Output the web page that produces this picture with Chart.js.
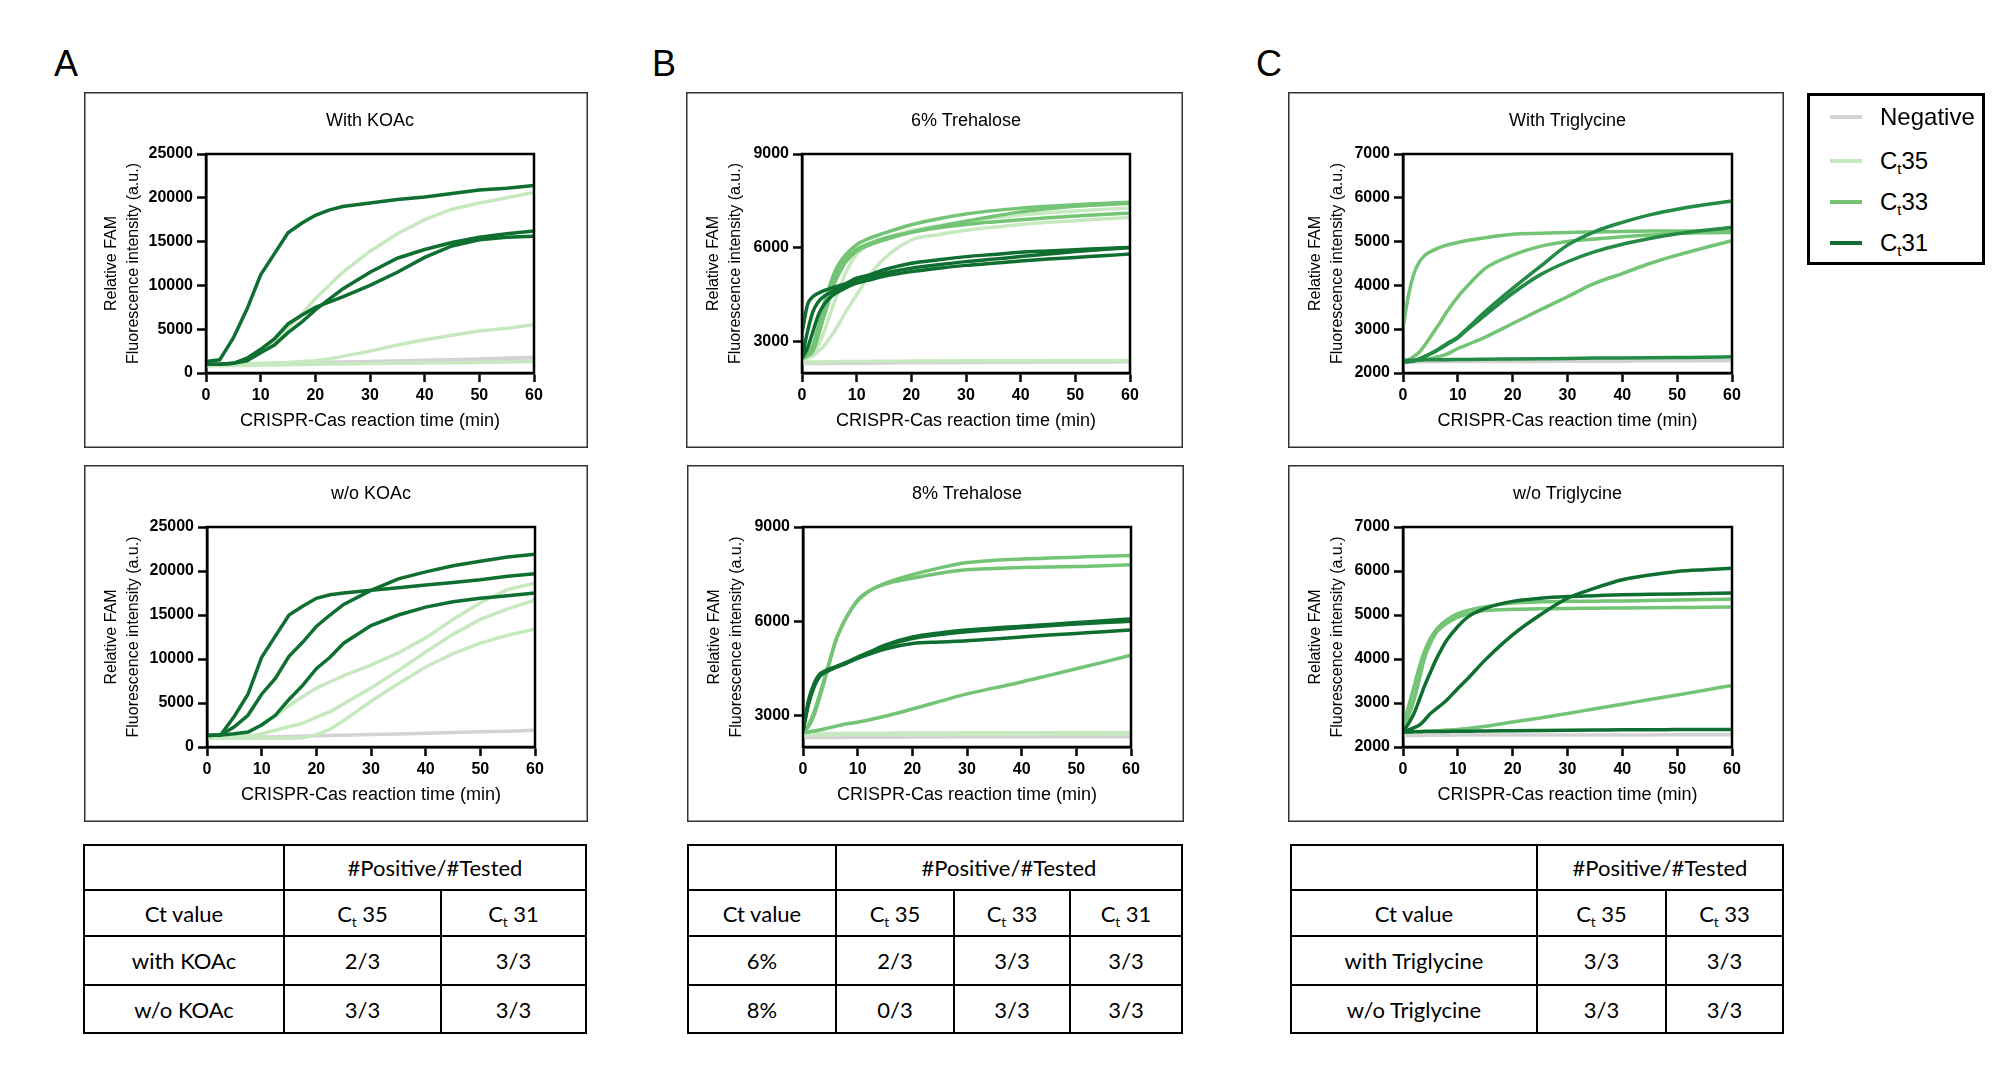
<!DOCTYPE html>
<html>
<head>
<meta charset="utf-8">
<script src="https://cdn.jsdelivr.net/npm/chart.js@4.4.1/dist/chart.umd.min.js"></script>
<style>
  body { margin: 0; width: 2000px; height: 1080px; background: #fff; position: relative; overflow: hidden;
         font-family: "Liberation Sans", Arial, sans-serif; color: #000; }
  .letter { position: absolute; font-size: 36px; line-height: 36px; }
  .panel { position: absolute; box-shadow: inset 0 0 0 1.5px #333; }
  .panel canvas { position: absolute; left: 0; top: 0; }
  .ptitle { position: absolute; top: 18px; line-height: 20px; text-align: center; font-size: 18px; }
  .legend { position: absolute; left: 1807px; top: 93px; width: 178px; height: 172px; border: 3px solid #000; box-sizing: border-box; }
  .legend .row { position: absolute; left: 0; height: 30px; width: 100%; }
  .legend .sw { position: absolute; left: 20px; top: 13px; width: 32px; height: 4px; }
  .legend .lb { position: absolute; left: 70px; top: 0; font-size: 24px; line-height: 30px; }
  sub { font-size: 62%; vertical-align: -0.35em; line-height: 0; }
  table { position: absolute; top: 844px; border-collapse: collapse; table-layout: fixed; font-family: Lato, "Open Sans", sans-serif; font-size: 22px; }
  td { border: 2px solid #000; text-align: center; padding: 0; }
</style>
</head>
<body>

<div class="letter" style="left:54px;top:46px">A</div>
<div class="letter" style="left:652px;top:46px">B</div>
<div class="letter" style="left:1256px;top:46px">C</div>

<div class="panel" style="left:84px;top:92px;width:504px;height:356px"><canvas id="aTop" width="504" height="356"></canvas><div class="ptitle" style="left:122px;width:328px">With KOAc</div></div>
<div class="panel" style="left:84px;top:465px;width:504px;height:357px"><canvas id="aBot" width="504" height="357"></canvas><div class="ptitle" style="left:123px;width:328px">w/o KOAc</div></div>
<div class="panel" style="left:686px;top:92px;width:497px;height:356px"><canvas id="bTop" width="497" height="356"></canvas><div class="ptitle" style="left:116px;width:328px">6% Trehalose</div></div>
<div class="panel" style="left:687px;top:465px;width:497px;height:357px"><canvas id="bBot" width="497" height="357"></canvas><div class="ptitle" style="left:116px;width:328px">8% Trehalose</div></div>
<div class="panel" style="left:1288px;top:92px;width:496px;height:356px"><canvas id="cTop" width="496" height="356"></canvas><div class="ptitle" style="left:115px;width:329px">With Triglycine</div></div>
<div class="panel" style="left:1288px;top:465px;width:496px;height:357px"><canvas id="cBot" width="496" height="357"></canvas><div class="ptitle" style="left:115px;width:329px">w/o Triglycine</div></div>

<div class="legend" id="legend"></div>

<table style="left:83px;width:504px">
  <colgroup><col style="width:200px"><col style="width:157px"><col></colgroup>
  <tr style="height:45px"><td></td><td colspan="2">#Positive/#Tested</td></tr>
  <tr style="height:46px"><td>Ct value</td><td>C<sub>t</sub> 35</td><td>C<sub>t</sub> 31</td></tr>
  <tr style="height:49px"><td>with KOAc</td><td>2/3</td><td>3/3</td></tr>
  <tr style="height:48px"><td>w/o KOAc</td><td>3/3</td><td>3/3</td></tr>
</table>
<table style="left:687px;width:496px">
  <colgroup><col style="width:148px"><col style="width:118px"><col style="width:116px"><col></colgroup>
  <tr style="height:45px"><td></td><td colspan="3">#Positive/#Tested</td></tr>
  <tr style="height:46px"><td>Ct value</td><td>C<sub>t</sub> 35</td><td>C<sub>t</sub> 33</td><td>C<sub>t</sub> 31</td></tr>
  <tr style="height:49px"><td>6%</td><td>2/3</td><td>3/3</td><td>3/3</td></tr>
  <tr style="height:48px"><td>8%</td><td>0/3</td><td>3/3</td><td>3/3</td></tr>
</table>
<table style="left:1290px;width:494px">
  <colgroup><col style="width:246px"><col style="width:129px"><col></colgroup>
  <tr style="height:45px"><td></td><td colspan="2">#Positive/#Tested</td></tr>
  <tr style="height:46px"><td>Ct value</td><td>C<sub>t</sub> 35</td><td>C<sub>t</sub> 33</td></tr>
  <tr style="height:49px"><td>with Triglycine</td><td>3/3</td><td>3/3</td></tr>
  <tr style="height:48px"><td>w/o Triglycine</td><td>3/3</td><td>3/3</td></tr>
</table>

<script>
// ---- time points (min) ----
const timesA = [0, 2.5, 5, 7.5, 10, 12.5, 15, 17.5, 20, 22.5, 25, 30, 35, 40, 45, 50, 55, 60];
const timesBC = [0, 1, 2, 3, 4, 5, 6, 7, 8, 10, 12, 15, 20, 25, 30, 35, 40, 45, 50, 55, 60];

// ---- A: with KOAc ----
const withKoacCt31 = [
  [1300, 1500, 4000, 7300, 11200, 13600, 16000, 17100, 18000, 18600, 19000, 19400, 19800, 20100, 20500, 20900, 21100, 21400],
  [1000, 1000, 1100, 1700, 2700, 3900, 5600, 6600, 7500, 8100, 8700, 10000, 11500, 13200, 14500, 15200, 15500, 15600],
  [1000, 1000, 1100, 1400, 2300, 3200, 4600, 5800, 7200, 8400, 9600, 11500, 13100, 14100, 14900, 15500, 15900, 16200]
];
const withKoacCt35 = [
  [1000, 1000, 1100, 1500, 2500, 3700, 5200, 6700, 8500, 10000, 11500, 13900, 15900, 17500, 18700, 19400, 20000, 20600],
  [1000, 1000, 1000, 1050, 1100, 1150, 1200, 1300, 1400, 1600, 1900, 2500, 3200, 3800, 4300, 4800, 5100, 5500],
  [800, 820, 850, 870, 900, 920, 950, 970, 1000, 1020, 1040, 1080, 1100, 1130, 1170, 1200, 1250, 1300]
];
const withKoacNeg = [
  [900, 940, 980, 1010, 1050, 1080, 1120, 1150, 1180, 1220, 1250, 1320, 1380, 1450, 1520, 1600, 1700, 1800],
  [900, 930, 960, 990, 1020, 1050, 1080, 1110, 1140, 1170, 1200, 1260, 1320, 1390, 1460, 1530, 1610, 1700]
];

// ---- A: w/o KOAc ----
const noKoacCt31 = [
  [1300, 1350, 3500, 6000, 10200, 12600, 15000, 16000, 16900, 17300, 17500, 17800, 18100, 18400, 18700, 19000, 19400, 19700],
  [1300, 1350, 2300, 3600, 6000, 7800, 10300, 11900, 13700, 15000, 16200, 17800, 19100, 19900, 20600, 21100, 21600, 21900],
  [1300, 1350, 1500, 1700, 2500, 3600, 5400, 7000, 8900, 10200, 11800, 13800, 15000, 15900, 16500, 16900, 17200, 17500]
];
const noKoacCt35 = [
  [1000, 1050, 1200, 1600, 2600, 3500, 4700, 5700, 6700, 7400, 8100, 9300, 10700, 12400, 14500, 16400, 17900, 18600],
  [1000, 1000, 1100, 1200, 1500, 1900, 2300, 2700, 3400, 4000, 4900, 6700, 8700, 10800, 12800, 14500, 15700, 16700],
  [1000, 1000, 1000, 1000, 1000, 1000, 1000, 1050, 1400, 2000, 3000, 5200, 7200, 9100, 10600, 11800, 12700, 13400]
];
const noKoacNeg = [
  [1000, 1030, 1060, 1100, 1130, 1170, 1200, 1240, 1270, 1310, 1340, 1420, 1490, 1570, 1640, 1720, 1800, 1900]
];

// ---- B: 6% trehalose ----
const tre6Ct31 = [
  [3270, 4180, 4440, 4550, 4630, 4690, 4750, 4800, 4860, 5030, 5120, 5300, 5510, 5620, 5720, 5790, 5860, 5900, 5940, 5980, 6010],
  [2470, 3320, 3960, 4280, 4450, 4550, 4640, 4720, 4790, 4980, 5060, 5190, 5350, 5460, 5560, 5640, 5720, 5800, 5880, 5950, 6010],
  [2470, 2800, 3320, 3860, 4180, 4390, 4530, 4630, 4720, 4870, 4960, 5090, 5240, 5350, 5440, 5510, 5580, 5640, 5690, 5750, 5800]
];
const tre6Ct33 = [
  [2470, 2600, 2900, 3500, 4180, 4750, 5240, 5550, 5780, 6100, 6280, 6470, 6740, 6930, 7080, 7190, 7270, 7330, 7380, 7420, 7460],
  [2470, 2550, 2700, 3200, 3800, 4350, 4900, 5250, 5550, 5900, 6070, 6250, 6500, 6680, 6850, 7010, 7150, 7250, 7330, 7380, 7420],
  [2470, 2550, 2750, 3300, 3900, 4500, 5000, 5400, 5650, 5950, 6120, 6300, 6500, 6640, 6750, 6830, 6900, 6960, 7020, 7070, 7110]
];
const tre6Ct35 = [
  [2470, 2500, 2600, 2900, 3300, 3800, 4300, 4750, 5200, 5800, 6080, 6300, 6550, 6710, 6850, 6960, 7050, 7120, 7180, 7230, 7270],
  [2470, 2480, 2550, 2700, 2850, 3100, 3350, 3640, 3950, 4500, 5030, 5650, 6250, 6420, 6560, 6660, 6750, 6820, 6870, 6920, 6970],
  [2350, 2350, 2355, 2355, 2360, 2360, 2360, 2365, 2365, 2370, 2370, 2375, 2380, 2385, 2390, 2390, 2395, 2395, 2400, 2400, 2400]
];
const tre6Neg = [
  [2300, 2300, 2300, 2305, 2305, 2305, 2310, 2310, 2310, 2315, 2315, 2320, 2325, 2330, 2335, 2340, 2345, 2350, 2350, 2355, 2360]
];

// ---- B: 8% trehalose ----
const tre8Ct31 = [
  [2520, 3480, 4010, 4310, 4420, 4490, 4560, 4630, 4700, 4860, 5010, 5240, 5500, 5630, 5720, 5790, 5840, 5900, 5960, 6020, 6070],
  [2520, 3400, 3950, 4260, 4390, 4470, 4540, 4610, 4680, 4840, 4990, 5210, 5450, 5580, 5670, 5740, 5800, 5860, 5910, 5960, 6000],
  [2520, 3350, 3900, 4230, 4370, 4450, 4530, 4600, 4670, 4820, 4950, 5120, 5290, 5340, 5380, 5440, 5500, 5560, 5610, 5670, 5720]
];
const tre8Ct33 = [
  [2460, 2700, 3100, 3650, 4220, 4820, 5400, 5800, 6140, 6680, 6960, 7210, 7480, 7700, 7870, 7940, 7980, 8010, 8040, 8070, 8090],
  [2460, 2650, 3000, 3550, 4150, 4780, 5380, 5800, 6150, 6650, 6950, 7180, 7370, 7530, 7640, 7680, 7710, 7730, 7740, 7770, 7800],
  [2460, 2480, 2510, 2540, 2580, 2620, 2660, 2700, 2740, 2790, 2860, 2980, 3210, 3450, 3690, 3880, 4070, 4280, 4490, 4700, 4920]
];
const tre8Ct35 = [
  [2420, 2420, 2425, 2425, 2430, 2430, 2430, 2435, 2435, 2435, 2440, 2440, 2445, 2445, 2450, 2450, 2455, 2455, 2460, 2460, 2460],
  [2400, 2400, 2405, 2405, 2405, 2410, 2410, 2410, 2415, 2415, 2415, 2420, 2420, 2425, 2425, 2430, 2430, 2435, 2435, 2440, 2440],
  [2380, 2380, 2380, 2385, 2385, 2385, 2390, 2390, 2390, 2395, 2395, 2395, 2400, 2400, 2405, 2405, 2410, 2410, 2415, 2415, 2420]
];
const tre8Neg = [
  [2300, 2300, 2300, 2300, 2305, 2305, 2305, 2305, 2310, 2310, 2310, 2310, 2315, 2315, 2320, 2320, 2320, 2325, 2325, 2330, 2330]
];

// ---- C: with triglycine ----
const triWithDark = [
  [2250, 2260, 2280, 2320, 2380, 2440, 2510, 2590, 2670, 2820, 3050, 3400, 3930, 4430, 4920, 5230, 5440, 5610, 5740, 5840, 5930],
  [2250, 2260, 2280, 2320, 2380, 2440, 2500, 2570, 2650, 2800, 3020, 3320, 3820, 4240, 4540, 4770, 4940, 5070, 5180, 5260, 5320],
  [2290, 2290, 2295, 2295, 2300, 2300, 2300, 2305, 2305, 2310, 2310, 2315, 2320, 2325, 2330, 2340, 2345, 2350, 2355, 2360, 2370]
];
const triWithCt33 = [
  [3030, 3780, 4270, 4540, 4690, 4770, 4830, 4880, 4920, 4980, 5030, 5090, 5170, 5190, 5210, 5220, 5230, 5240, 5240, 5240, 5240],
  [2250, 2300, 2380, 2480, 2640, 2820, 3010, 3200, 3400, 3740, 4020, 4390, 4690, 4890, 5000, 5060, 5110, 5150, 5190, 5200, 5210],
  [2250, 2260, 2270, 2290, 2310, 2330, 2360, 2390, 2430, 2560, 2660, 2820, 3130, 3440, 3740, 4050, 4270, 4500, 4690, 4860, 5020]
];
const triWithNeg = [
  [2250, 2250, 2250, 2255, 2255, 2255, 2255, 2260, 2260, 2260, 2260, 2265, 2265, 2265, 2270, 2270, 2270, 2275, 2275, 2280, 2280]
];

// ---- C: w/o triglycine ----
const triNoCt31 = [
  [2340, 2530, 2760, 3080, 3410, 3700, 3980, 4220, 4430, 4740, 4970, 5150, 5310, 5380, 5420, 5440, 5460, 5470, 5480, 5490, 5500],
  [2340, 2390, 2440, 2500, 2620, 2760, 2860, 2960, 3070, 3330, 3580, 3980, 4550, 5000, 5380, 5610, 5800, 5910, 5990, 6030, 6060],
  [2340, 2340, 2345, 2345, 2350, 2350, 2350, 2355, 2355, 2360, 2360, 2365, 2370, 2375, 2380, 2385, 2390, 2390, 2395, 2395, 2400]
];
const triNoCt33 = [
  [2535, 2920, 3370, 3830, 4200, 4470, 4660, 4790, 4890, 5030, 5110, 5190, 5270, 5300, 5310, 5315, 5320, 5330, 5340, 5350, 5360],
  [2420, 2700, 3070, 3560, 4050, 4360, 4590, 4720, 4810, 4950, 5030, 5100, 5130, 5140, 5150, 5155, 5160, 5165, 5170, 5175, 5180],
  [2340, 2345, 2350, 2355, 2360, 2365, 2370, 2375, 2385, 2400, 2420, 2470, 2570, 2660, 2760, 2870, 2970, 3080, 3180, 3290, 3400]
];
const triNoNeg = [
  [2260, 2260, 2260, 2260, 2265, 2265, 2265, 2265, 2265, 2270, 2270, 2270, 2270, 2270, 2275, 2275, 2275, 2275, 2280, 2280, 2280]
];

// ---- axis ticks ----
const xTicks = [0, 10, 20, 30, 40, 50, 60];
const trehaloseYTicks = [3000, 6000, 9000];

const NEG = '#d3d3d3';
const CT35 = '#c7e9c0';
const CT33 = '#74c476';
const CT31 = '#0f6f31';
const CT31_C = '#238b45';

const legendItems = [
  { color: NEG, html: 'Negative' },
  { color: CT35, html: 'C<sub>t</sub>35' },
  { color: CT33, html: 'C<sub>t</sub>33' },
  { color: CT31, html: 'C<sub>t</sub>31' }
];

// frame around plot area
const framePlugin = {
  id: 'frame',
  afterDraw(chart) {
    const { ctx, chartArea: a } = chart;
    ctx.save();
    ctx.strokeStyle = '#000';
    ctx.lineWidth = 2.5;
    ctx.strokeRect(a.left, a.top, a.right - a.left, a.bottom - a.top);
    ctx.restore();
  }
};

function group(values, color, times) {
  return values.map(v => ({
    data: times.map((t, i) => ({ x: t, y: v[i] })),
    borderColor: color,
    borderWidth: 3.5,
    pointRadius: 0,
    fill: false
  }));
}

function makeChart(id, opts) {
  const smooth = opts.smooth;
  const datasets = opts.groups.flatMap(g => group(g[0], g[1], opts.times));
  datasets.forEach(d => {
    if (smooth) { d.cubicInterpolationMode = 'monotone'; } else { d.tension = 0; }
  });

  const yScale = {
    type: 'linear',
    min: opts.yMin,
    max: opts.yMax,
    ticks: {
      stepSize: opts.yStep,
      color: '#000',
      padding: 4,
      font: { family: 'Liberation Sans', size: 16, weight: 'bold' },
      callback: v => String(v)
    },
    grid: { drawOnChartArea: false, tickLength: 9, tickWidth: 2.5, color: '#000' },
    border: { width: 2.5, color: '#000' },
    title: {
      display: true,
      text: ['Relative FAM', 'Fluorescence intensity (a.u.)'],
      color: '#000',
      font: { family: 'Liberation Sans', size: 16, lineHeight: 1.4 },
      padding: { top: 16, bottom: 0 }
    },
    afterFit: s => { s.width = opts.yWidth; }
  };
  if (opts.yTicks) {
    yScale.afterBuildTicks = axis => { axis.ticks = opts.yTicks.map(v => ({ value: v })); };
  }

  new Chart(document.getElementById(id), {
    type: 'line',
    data: { datasets },
    options: {
      responsive: false,
      animation: false,
      devicePixelRatio: 1,
      layout: { padding: { top: 62, right: opts.right, bottom: 0, left: 0 } },
      plugins: { legend: { display: false }, tooltip: { enabled: false } },
      scales: {
        x: {
          type: 'linear',
          min: 0,
          max: 60,
          afterBuildTicks: axis => { axis.ticks = xTicks.map(v => ({ value: v })); },
          ticks: { color: '#000', padding: 4, font: { family: 'Liberation Sans', size: 16, weight: 'bold' } },
          grid: { drawOnChartArea: false, tickLength: 9, tickWidth: 2.5, color: '#000' },
          border: { width: 2.5, color: '#000' },
          title: {
            display: true,
            text: 'CRISPR-Cas reaction time (min)',
            color: '#000',
            font: { family: 'Liberation Sans', size: 18, lineHeight: 1.2 },
            padding: { top: 0, bottom: 16 }
          },
          afterFit: s => { s.height = 75; }
        },
        y: yScale
      }
    },
    plugins: [framePlugin]
  });
}

makeChart('aTop', {
  times: timesA, smooth: false, yMin: 0, yMax: 25000, yStep: 5000, yWidth: 122, right: 54,
  groups: [[withKoacCt31, CT31], [withKoacCt35, CT35], [withKoacNeg, NEG]]
});
makeChart('aBot', {
  times: timesA, smooth: false, yMin: 0, yMax: 25000, yStep: 5000, yWidth: 123, right: 53,
  groups: [[noKoacCt31, CT31], [noKoacCt35, CT35], [noKoacNeg, NEG]]
});
makeChart('bTop', {
  times: timesBC, smooth: true, yMin: 2000, yMax: 9000, yTicks: trehaloseYTicks, yWidth: 116, right: 53,
  groups: [[tre6Ct31, CT31], [tre6Ct33, CT33], [tre6Ct35, CT35], [tre6Neg, NEG]]
});
makeChart('bBot', {
  times: timesBC, smooth: true, yMin: 2000, yMax: 9000, yTicks: trehaloseYTicks, yWidth: 116, right: 53,
  groups: [[tre8Ct31, CT31], [tre8Ct33, CT33], [tre8Ct35, CT35], [tre8Neg, NEG]]
});
makeChart('cTop', {
  times: timesBC, smooth: true, yMin: 2000, yMax: 7000, yStep: 1000, yWidth: 115, right: 52,
  groups: [[triWithDark, CT31_C], [triWithCt33, CT33], [triWithNeg, NEG]]
});
makeChart('cBot', {
  times: timesBC, smooth: true, yMin: 2000, yMax: 7000, yStep: 1000, yWidth: 115, right: 52,
  groups: [[triNoCt31, CT31], [triNoCt33, CT33], [triNoNeg, NEG]]
});

// legend
const legendEl = document.getElementById('legend');
const legendTops = [6, 50, 91, 132];
legendItems.forEach((item, i) => {
  const row = document.createElement('div');
  row.className = 'row';
  row.style.top = legendTops[i] + 'px';
  row.innerHTML = '<div class="sw" style="background:' + item.color + '"></div><div class="lb">' + item.html + '</div>';
  legendEl.appendChild(row);
});
</script>
</body>
</html>
